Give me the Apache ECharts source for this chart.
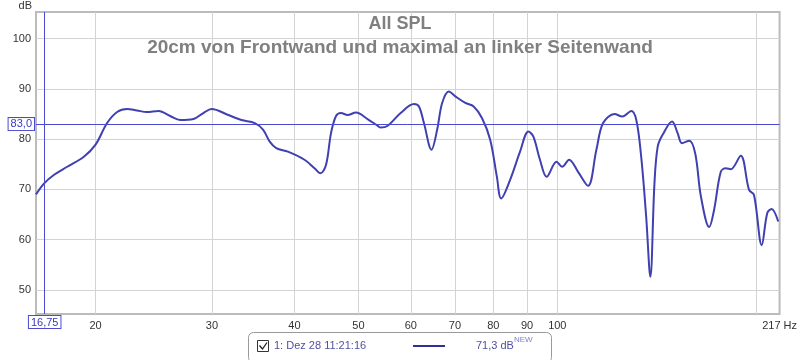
<!DOCTYPE html>
<html>
<head>
<meta charset="utf-8">
<script src="https://cdn.jsdelivr.net/npm/echarts@6/dist/echarts.min.js"></script>
<style>html,body{margin:0;padding:0;background:#fff}#c{width:800px;height:360px}</style>
</head>
<body>
<div id="c"></div>
<script>
// Frequency response samples (Hz, dB)
const freqHz = [16.25,16.72,17.31,18.12,19.20,20.0,20.82,21.56,22.32,23.10,23.92,24.91,25.94,26.86,28.13,29.12,29.97,
  31.76,33.25,34.84,35.85,36.70,37.55,39.10,41.43,42.90,43.80,44.66,45.44,46.24,47.04,48.15,49.56,51.61,53.43,54.04,55.31,
  57.92,60.68,61.74,62.82,64.50,65.79,66.94,68.51,70.10,72.57,74.71,76.90,79.14,81.01,82.22,84.83,87.82,90.42,92.00,94.13,96.35,
  99.74,101.7,104.2,107.5,111.3,114.6,117.3,122.1,125.4,129.4,131.7,133.96,136.3,138.3,140.3,141.9,144.4,149.2,152.1,154.4,
  158.4,161.7,164.96,169.8,172.7,176.8,179.9,183.0,189.5,195.1,198.5,203.9,207.9,211.0,216.0];
const splDb = [69.0,71.2,72.9,74.5,76.5,78.9,83.2,85.4,86.0,85.7,85.4,85.6,84.6,83.8,84.0,85.2,86.0,
  84.8,83.8,83.2,81.9,79.5,78.2,77.5,75.9,74.2,73.2,74.9,81.2,84.6,85.2,84.8,85.3,84.0,82.7,82.3,82.6,
  85.2,87.0,86.5,83.2,77.9,81.9,87.2,89.5,88.5,87.2,86.5,84.2,79.9,72.5,68.2,71.9,77.5,81.5,80.5,75.9,72.5,
  75.5,74.5,75.9,73.5,70.7,77.9,83.2,85.0,84.5,85.6,83.8,76.5,64.6,52.6,71.2,78.5,80.9,83.5,81.2,79.2,
  79.7,77.2,68.6,62.5,65.9,73.5,74.2,74.0,76.7,69.9,68.9,58.9,65.3,66.1,63.6];

const xGridHz = [20,30,40,50,60,70,80,90,100,200];
const xLabelHz = [20,30,40,50,60,70,80,90,100,217];
const yTicksDb = [50,60,70,80,90,100];
const cursorHz = 16.75;
const cursorDb = 83.0;
const titleText = 'All SPL';
const subtitleText = '20cm von Frontwand und maximal an linker Seitenwand';
const legendName = '1: Dez 28 11:21:16';
const legendValue = '71,3 dB';

const chart = echarts.init(document.getElementById('c'), null, {renderer:'canvas'});
const lineColor = '#4040b0';
const cursorColor = '#4b4bd0';
const txt = '#333';

chart.setOption({
  animation: false,
  backgroundColor: '#fff',
  title: {
    text: titleText, subtext: subtitleText, left: 'center', top: 15, padding: 0, itemGap: 5,
    textStyle: {fontFamily: 'Liberation Sans', fontSize: 18, fontWeight: 'bold', color: '#808080'},
    subtextStyle: {fontFamily: 'Liberation Sans', fontSize: 19, fontWeight: 'bold', color: '#808080'}
  },
  grid: {left: 36, top: 12, width: 746, height: 302, show: true, borderColor: '#bbbbbb', borderWidth: 2, backgroundColor: 'transparent'},
  xAxis: {
    type: 'log', logBase: 10, min: 16.25, max: 217,
    axisLine: {show: false},
    axisTick: {show: false, customValues: xGridHz},
    splitLine: {show: true, lineStyle: {color: '#d3d3d3', width: 1}},
    minorSplitLine: {show: false},
    axisLabel: {
      customValues: xLabelHz, margin: 6, fontSize: 11, color: txt, fontFamily: 'Liberation Sans',
      formatter: v => { const r = Math.round(v); return r >= 217 ? '217 Hz' : String(r); }
    }
  },
  yAxis: {
    type: 'value', min: 45.2, max: 105.3,
    name: 'dB', nameLocation: 'end', nameGap: 6,
    nameTextStyle: {align: 'right', verticalAlign: 'middle', padding: [0, 4, 0, 0], fontSize: 11, color: txt, fontFamily: 'Liberation Sans'},
    axisLine: {show: false},
    axisTick: {show: false, customValues: yTicksDb},
    splitLine: {show: true, lineStyle: {color: '#d3d3d3', width: 1}},
    axisLabel: {customValues: yTicksDb, margin: 5, fontSize: 11, color: txt, fontFamily: 'Liberation Sans'}
  },
  series: [{
    type: 'line',
    data: freqHz.map((f, i) => [f, splDb[i]]),
    showSymbol: false, symbol: 'none',
    smooth: 0.35,
    lineStyle: {color: lineColor, width: 2},
    clip: true,
    markLine: {
      silent: true, symbol: ['none', 'none'], animation: false,
      lineStyle: {color: cursorColor, width: 1, type: 'solid'},
      label: {position: 'start', distance: 2, color: '#3838c0', fontSize: 11, fontFamily: 'Liberation Sans',
        backgroundColor: '#fff', borderColor: cursorColor, borderWidth: 1, padding: [1, 2, 0, 2]},
      data: [
        {xAxis: cursorHz, label: {formatter: String(cursorHz).replace('.', ',')}},
        {yAxis: cursorDb, label: {formatter: cursorDb.toFixed(1).replace('.', ',')}}
      ]
    }
  }],
  graphic: [{
    type: 'group', left: 248, top: 332,
    children: [
      {type: 'rect', shape: {x: 0.5, y: 0.5, width: 303, height: 30, r: 5}, style: {fill: '#fff', stroke: '#999', lineWidth: 1}},
      {type: 'rect', shape: {x: 9.5, y: 8.5, width: 11, height: 11}, style: {fill: '#fff', stroke: '#333', lineWidth: 1}},
      {type: 'polyline', shape: {points: [[11.5, 13.5], [14.5, 17], [19, 10.5]]}, style: {stroke: '#222', lineWidth: 1.3, fill: null}},
      {type: 'text', x: 26, y: 14, style: {text: legendName, fill: '#5050a0', font: '11px "Liberation Sans"', verticalAlign: 'middle'}},
      {type: 'line', shape: {x1: 165, y1: 14, x2: 197, y2: 14}, style: {stroke: '#303098', lineWidth: 2}},
      {type: 'text', x: 228, y: 14, style: {text: legendValue, fill: '#5050a0', font: '11px "Liberation Sans"', verticalAlign: 'middle'}},
      {type: 'text', x: 266, y: 8, style: {text: 'NEW', fill: '#8080d0', font: '8px "Liberation Sans"', verticalAlign: 'middle'}}
    ]
  }]
});
</script>
</body>
</html>
